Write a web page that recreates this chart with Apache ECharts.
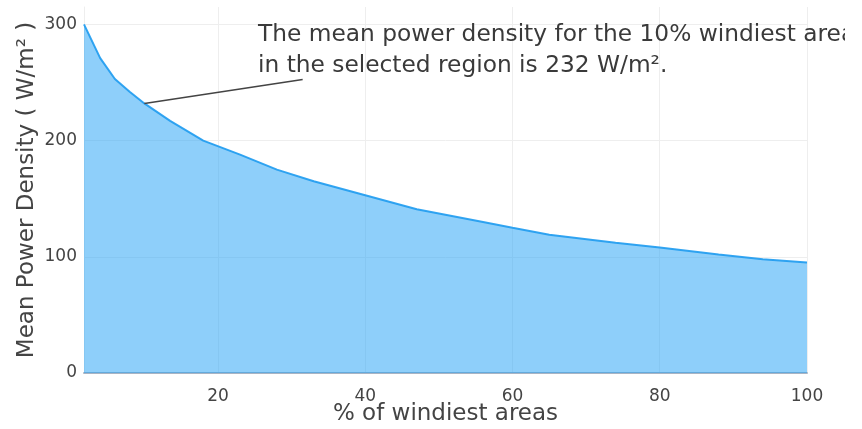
<!DOCTYPE html>
<html>
<head>
<meta charset="utf-8">
<script src="https://cdn.jsdelivr.net/npm/echarts@6/dist/echarts.min.js"></script>
<style>
html,body{margin:0;padding:0;background:#fff;}
#c{width:845px;height:429px;}
</style>
</head>
<body>
<div id="c"></div>
<script>
// % of windiest areas
var xValues = [1.8, 4, 6, 8, 10, 13.5, 18, 23, 28, 33, 40, 47, 56, 60, 65, 74, 80, 88, 94, 100];
// Mean power density (W/m²)
var yValues = [300, 271, 253, 242, 232, 217, 200, 188, 175, 165, 153, 141, 130, 125, 119, 112, 108, 102, 98, 95];
var xTicks = [20, 40, 60, 80, 100];
var yTicks = [0, 100, 200, 300];
var annotationPoint = [10, 232];
var annotationEnd = [31.5, 252.6];
var annotationText = 'The mean power density for the 10% windiest area\nin the selected region is 232 W/m\u00B2.';

var pts = xValues.map(function (x, i) { return [x, yValues[i]]; });
var font = 'DejaVu Sans, Verdana, sans-serif';
var chart = echarts.init(document.getElementById('c'));
chart.setOption({
  animation: false,
  grid: { left: 84, right: 38, top: 7, bottom: 56, containLabel: false, outerBoundsMode: 'none' },
  xAxis: {
    type: 'value', min: 1.8, max: 100,
    name: '% of windiest areas', nameLocation: 'middle', nameGap: 30, nameMoveOverlap: false,
    nameTextStyle: { color: '#444', fontSize: 23, fontFamily: font },
    axisLine: { show: true, onZero: false, lineStyle: { color: '#aab4c3', width: 2 } },
    axisTick: { show: false, customValues: xTicks },
    axisLabel: { customValues: xTicks, color: '#444', fontSize: 17, fontFamily: font, margin: 15 },
    splitLine: { show: true, lineStyle: { color: '#eeeeee', width: 1 } }
  },
  yAxis: {
    type: 'value', min: 0, max: 315,
    name: 'Mean Power Density ( W/m\u00B2 )', nameLocation: 'middle', nameGap: 45, nameRotate: 90, nameMoveOverlap: false,
    nameTextStyle: { color: '#444', fontSize: 23, fontFamily: font },
    axisLine: { show: true, lineStyle: { color: '#eeeeee' } },
    axisTick: { show: false, customValues: yTicks },
    axisLabel: { customValues: yTicks, color: '#444', fontSize: 17, fontFamily: font, margin: 7 },
    splitLine: { show: true, lineStyle: { color: '#eeeeee', width: 1 } }
  },
  series: [{
    type: 'line', data: pts, symbol: 'none', smooth: false,
    lineStyle: { color: 'rgb(30,155,240)', width: 2, opacity: 0.9 },
    areaStyle: { color: 'rgb(30,160,245)', opacity: 0.5 },
    markLine: {
      silent: true, symbol: ['none', 'none'], label: { show: false },
      lineStyle: { color: '#444', width: 1.5, type: 'solid' },
      data: [[{ coord: annotationPoint }, { coord: annotationEnd }]]
    }
  }],
  graphic: [{
    type: 'text', left: 258, top: 19, z: 10,
    style: { text: annotationText, fill: '#3a3a3a', fontSize: 23.3, fontFamily: font, lineHeight: 31 }
  }]
});
</script>
</body>
</html>
